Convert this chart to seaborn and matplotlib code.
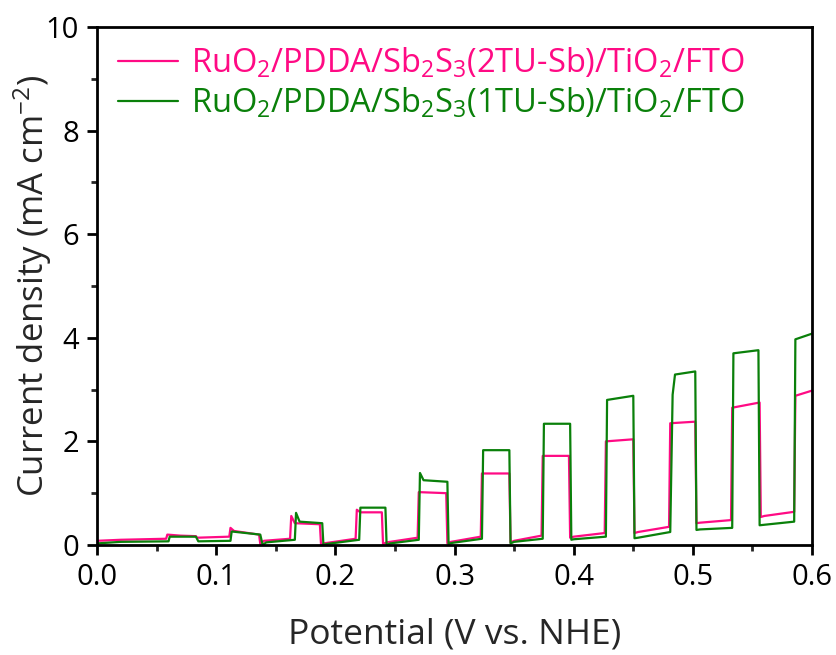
import matplotlib
matplotlib.use("Agg")
import matplotlib.pyplot as plt
import seaborn as sns
import pandas as pd
from matplotlib.ticker import MultipleLocator

# ---- data ----
v_2tu = [0.000, 0.020, 0.058, 0.059, 0.070, 0.083, 0.084, 0.111, 0.112, 0.115, 0.136, 0.137, 0.140,
         0.162, 0.163, 0.166, 0.187, 0.188, 0.190, 0.217, 0.218, 0.221, 0.239, 0.240, 0.243,
         0.269, 0.270, 0.293, 0.294, 0.297, 0.322, 0.323, 0.346, 0.347, 0.350,
         0.373, 0.374, 0.396, 0.397, 0.400, 0.426, 0.427, 0.450, 0.451, 0.454,
         0.480, 0.481, 0.502, 0.503, 0.506, 0.532, 0.533, 0.556, 0.557, 0.560, 0.585, 0.586, 0.600]
j_2tu = [0.08, 0.10, 0.12, 0.20, 0.18, 0.17, 0.14, 0.16, 0.33, 0.27, 0.20, 0.02, 0.08,
         0.12, 0.56, 0.42, 0.40, 0.00, 0.03, 0.12, 0.68, 0.63, 0.63, 0.02, 0.05,
         0.14, 1.02, 1.00, 0.03, 0.06, 0.16, 1.38, 1.38, 0.05, 0.08,
         0.18, 1.72, 1.72, 0.14, 0.16, 0.23, 2.00, 2.04, 0.23, 0.25,
         0.35, 2.35, 2.38, 0.42, 0.43, 0.48, 2.65, 2.75, 0.54, 0.56, 0.64, 2.88, 2.98]

v_1tu = [0.000, 0.020, 0.060, 0.061, 0.083, 0.085, 0.112, 0.113, 0.137, 0.139, 0.142,
         0.166, 0.167, 0.170, 0.189, 0.190, 0.193, 0.220, 0.221, 0.242, 0.243, 0.246,
         0.270, 0.271, 0.274, 0.294, 0.295, 0.298, 0.323, 0.324, 0.346, 0.347, 0.350,
         0.374, 0.375, 0.397, 0.398, 0.400, 0.427, 0.428, 0.450, 0.451, 0.454,
         0.481, 0.483, 0.485, 0.502, 0.503, 0.506, 0.533, 0.534, 0.555, 0.556, 0.560,
         0.585, 0.586, 0.600]
j_1tu = [0.03, 0.06, 0.07, 0.16, 0.16, 0.07, 0.08, 0.26, 0.20, 0.00, 0.05,
         0.10, 0.62, 0.45, 0.42, 0.00, 0.02, 0.10, 0.72, 0.72, 0.00, 0.03,
         0.10, 1.39, 1.25, 1.22, 0.02, 0.04, 0.12, 1.83, 1.83, 0.03, 0.06,
         0.12, 2.34, 2.34, 0.10, 0.11, 0.16, 2.80, 2.88, 0.13, 0.14,
         0.25, 2.90, 3.29, 3.35, 0.29, 0.30, 0.33, 3.70, 3.76, 0.38, 0.39,
         0.45, 3.97, 4.08]

labels = ["RuO$_2$/PDDA/Sb$_2$S$_3$(2TU-Sb)/TiO$_2$/FTO",
          "RuO$_2$/PDDA/Sb$_2$S$_3$(1TU-Sb)/TiO$_2$/FTO"]
colors = ["#FF0A84", "#0A800A"]

x_ticks = [0.0, 0.1, 0.2, 0.3, 0.4, 0.5, 0.6]
y_ticks = [0, 2, 4, 6, 8, 10]

series = [(v_2tu, j_2tu), (v_1tu, j_1tu)]

sns.set_style("white")
plt.rcParams["font.family"] = ["Open Sans", "DejaVu Sans"]
plt.rcParams["mathtext.fontset"] = "custom"
plt.rcParams["mathtext.rm"] = "Open Sans"
plt.rcParams["mathtext.it"] = "Open Sans"
plt.rcParams["mathtext.default"] = "regular"

fig = plt.figure(figsize=(8.37, 6.55), dpi=100)
ax = fig.add_axes([0.1159, 0.168, 0.8543, 0.7908])

for (vv, jj), lab, c in zip(series, labels, colors):
    df = pd.DataFrame({"V": vv, "J": jj})
    sns.lineplot(data=df, x="V", y="J", sort=False, estimator=None,
                 color=c, linewidth=1.6, label=lab, ax=ax)

ax.set_xlim(0, 0.6)
ax.set_ylim(0, 10)
ax.set_xticks(x_ticks)
ax.set_xticklabels([f"{t:.1f}" for t in x_ticks])
ax.set_yticks(y_ticks)
ax.set_yticklabels([str(t) for t in y_ticks])
ax.xaxis.set_minor_locator(MultipleLocator(0.05))
ax.yaxis.set_minor_locator(MultipleLocator(1))
ax.tick_params(axis="both", which="major", direction="out", length=7, width=2,
               labelsize=21, pad=6, bottom=True, left=True, top=False, right=False, colors="black")
ax.tick_params(axis="both", which="minor", direction="out", length=4, width=2,
               bottom=True, left=True, top=False, right=False)
for s in ax.spines.values():
    s.set_linewidth(2)
    s.set_color("black")

ax.set_xlabel("Potential (V vs. NHE)", fontsize=25.5, labelpad=18)
ax.set_ylabel("Current density (mA cm$^{-2}$)", fontsize=25, labelpad=-6)

leg = ax.legend(loc="upper left", frameon=False, fontsize=23.5, handlelength=1.85,
                handletextpad=0.4, labelspacing=0.18, borderaxespad=0.0, borderpad=0.2,
                bbox_to_anchor=(0.02, 0.976))
for txt, c in zip(leg.get_texts(), colors):
    txt.set_color(c)
for ln in leg.get_lines():
    ln.set_linewidth(1.6)

fig.savefig("out.png", dpi=100)
